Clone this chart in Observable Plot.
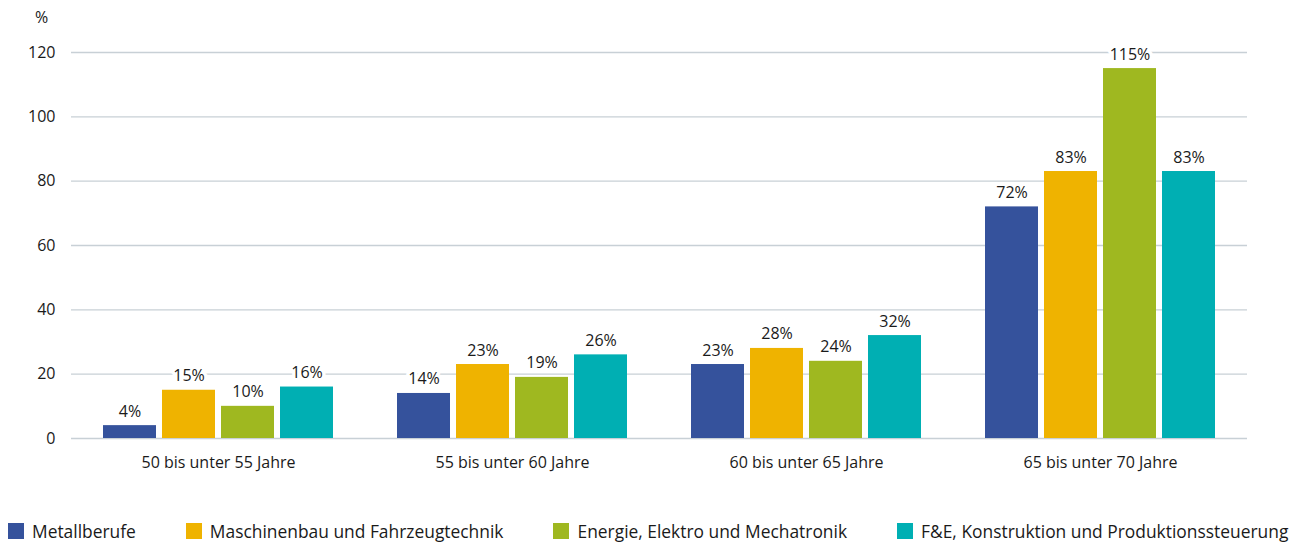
<!DOCTYPE html>
<html><head><meta charset="utf-8">
<script src="https://cdn.jsdelivr.net/npm/d3@7"></script>
<script src="https://cdn.jsdelivr.net/npm/@observablehq/plot@0.6"></script>
<style>
body{margin:0;background:#fff;font-family:"Open Sans",sans-serif;color:#1a1a1a}
#wrap{position:relative;width:1295px;height:542px;overflow:hidden}
#unit{position:absolute;left:35px;top:6px;font-size:16px}
#legend{position:absolute;left:8px;top:521px;display:flex;gap:50px;font-size:17.4px;line-height:20px;white-space:nowrap}
.item{display:flex;align-items:center;gap:8px}
.sw{width:16px;height:16px;flex:none}
</style></head><body>
<div id="wrap"><div id="unit">%</div><div id="chart"></div><div id="legend"></div></div>
<script>
const groups = ["50 bis unter 55 Jahre", "55 bis unter 60 Jahre", "60 bis unter 65 Jahre", "65 bis unter 70 Jahre"];
const series = ["Metallberufe", "Maschinenbau und Fahrzeugtechnik", "Energie, Elektro und Mechatronik", "F&E, Konstruktion und Produktionssteuerung"];
const metallberufe = [4, 14, 23, 72];
const maschinenbau = [15, 23, 28, 83];
const energie = [10, 19, 24, 115];
const fue = [16, 26, 32, 83];
const yTicks = [0, 20, 40, 60, 80, 100, 120];
const colors = ["#35529c", "#efb300", "#9fb820", "#00afb3"];

const valuesBySeries = [metallberufe, maschinenbau, energie, fue];
const data = [];
groups.forEach((g, gi) => series.forEach((s, si) => data.push({group: g, series: s, value: valuesBySeries[si][gi]})));

const chart = Plot.plot({
  width: 1295,
  height: 500,
  marginLeft: 69,
  marginRight: 47,
  marginTop: 52,
  marginBottom: 62,
  style: {fontFamily: "'Open Sans', sans-serif", fontSize: "16px", color: "#1a1a1a", background: "white"},
  fx: {domain: groups, padding: 0, label: null},
  x: {domain: series, axis: null, paddingInner: 0.1, paddingOuter: 0.5},
  y: {domain: [0, 120], label: null},
  color: {domain: series, range: colors},
  marks: [
    Plot.ruleY(yTicks, {stroke: "#c8d0d6", strokeWidth: 1.3}),
    Plot.barY(data, {fx: "group", x: "series", y: "value", fill: "series"}),
    Plot.text(data, {fx: "group", x: "series", y: "value", text: d => d.value + "%", dy: -9, lineAnchor: "bottom", fill: "#1a1a1a", stroke: "white", strokeWidth: 7, fontSize: 16}),
    Plot.axisY(yTicks, {tickSize: 0, tickPadding: 16, fontSize: 16, label: null, fill: "#1a1a1a"}),
    Plot.axisFx({anchor: "bottom", tickSize: 0, tickPadding: 18, fontSize: 16, label: null, fill: "#1a1a1a"})
  ]
});
document.getElementById("chart").appendChild(chart);

const legend = document.getElementById("legend");
series.forEach((s, i) => {
  const item = document.createElement("div");
  item.className = "item";
  const sw = document.createElement("span");
  sw.className = "sw";
  sw.style.background = colors[i];
  const t = document.createElement("span");
  t.textContent = s;
  item.appendChild(sw); item.appendChild(t);
  legend.appendChild(item);
});
</script>
</body></html>
